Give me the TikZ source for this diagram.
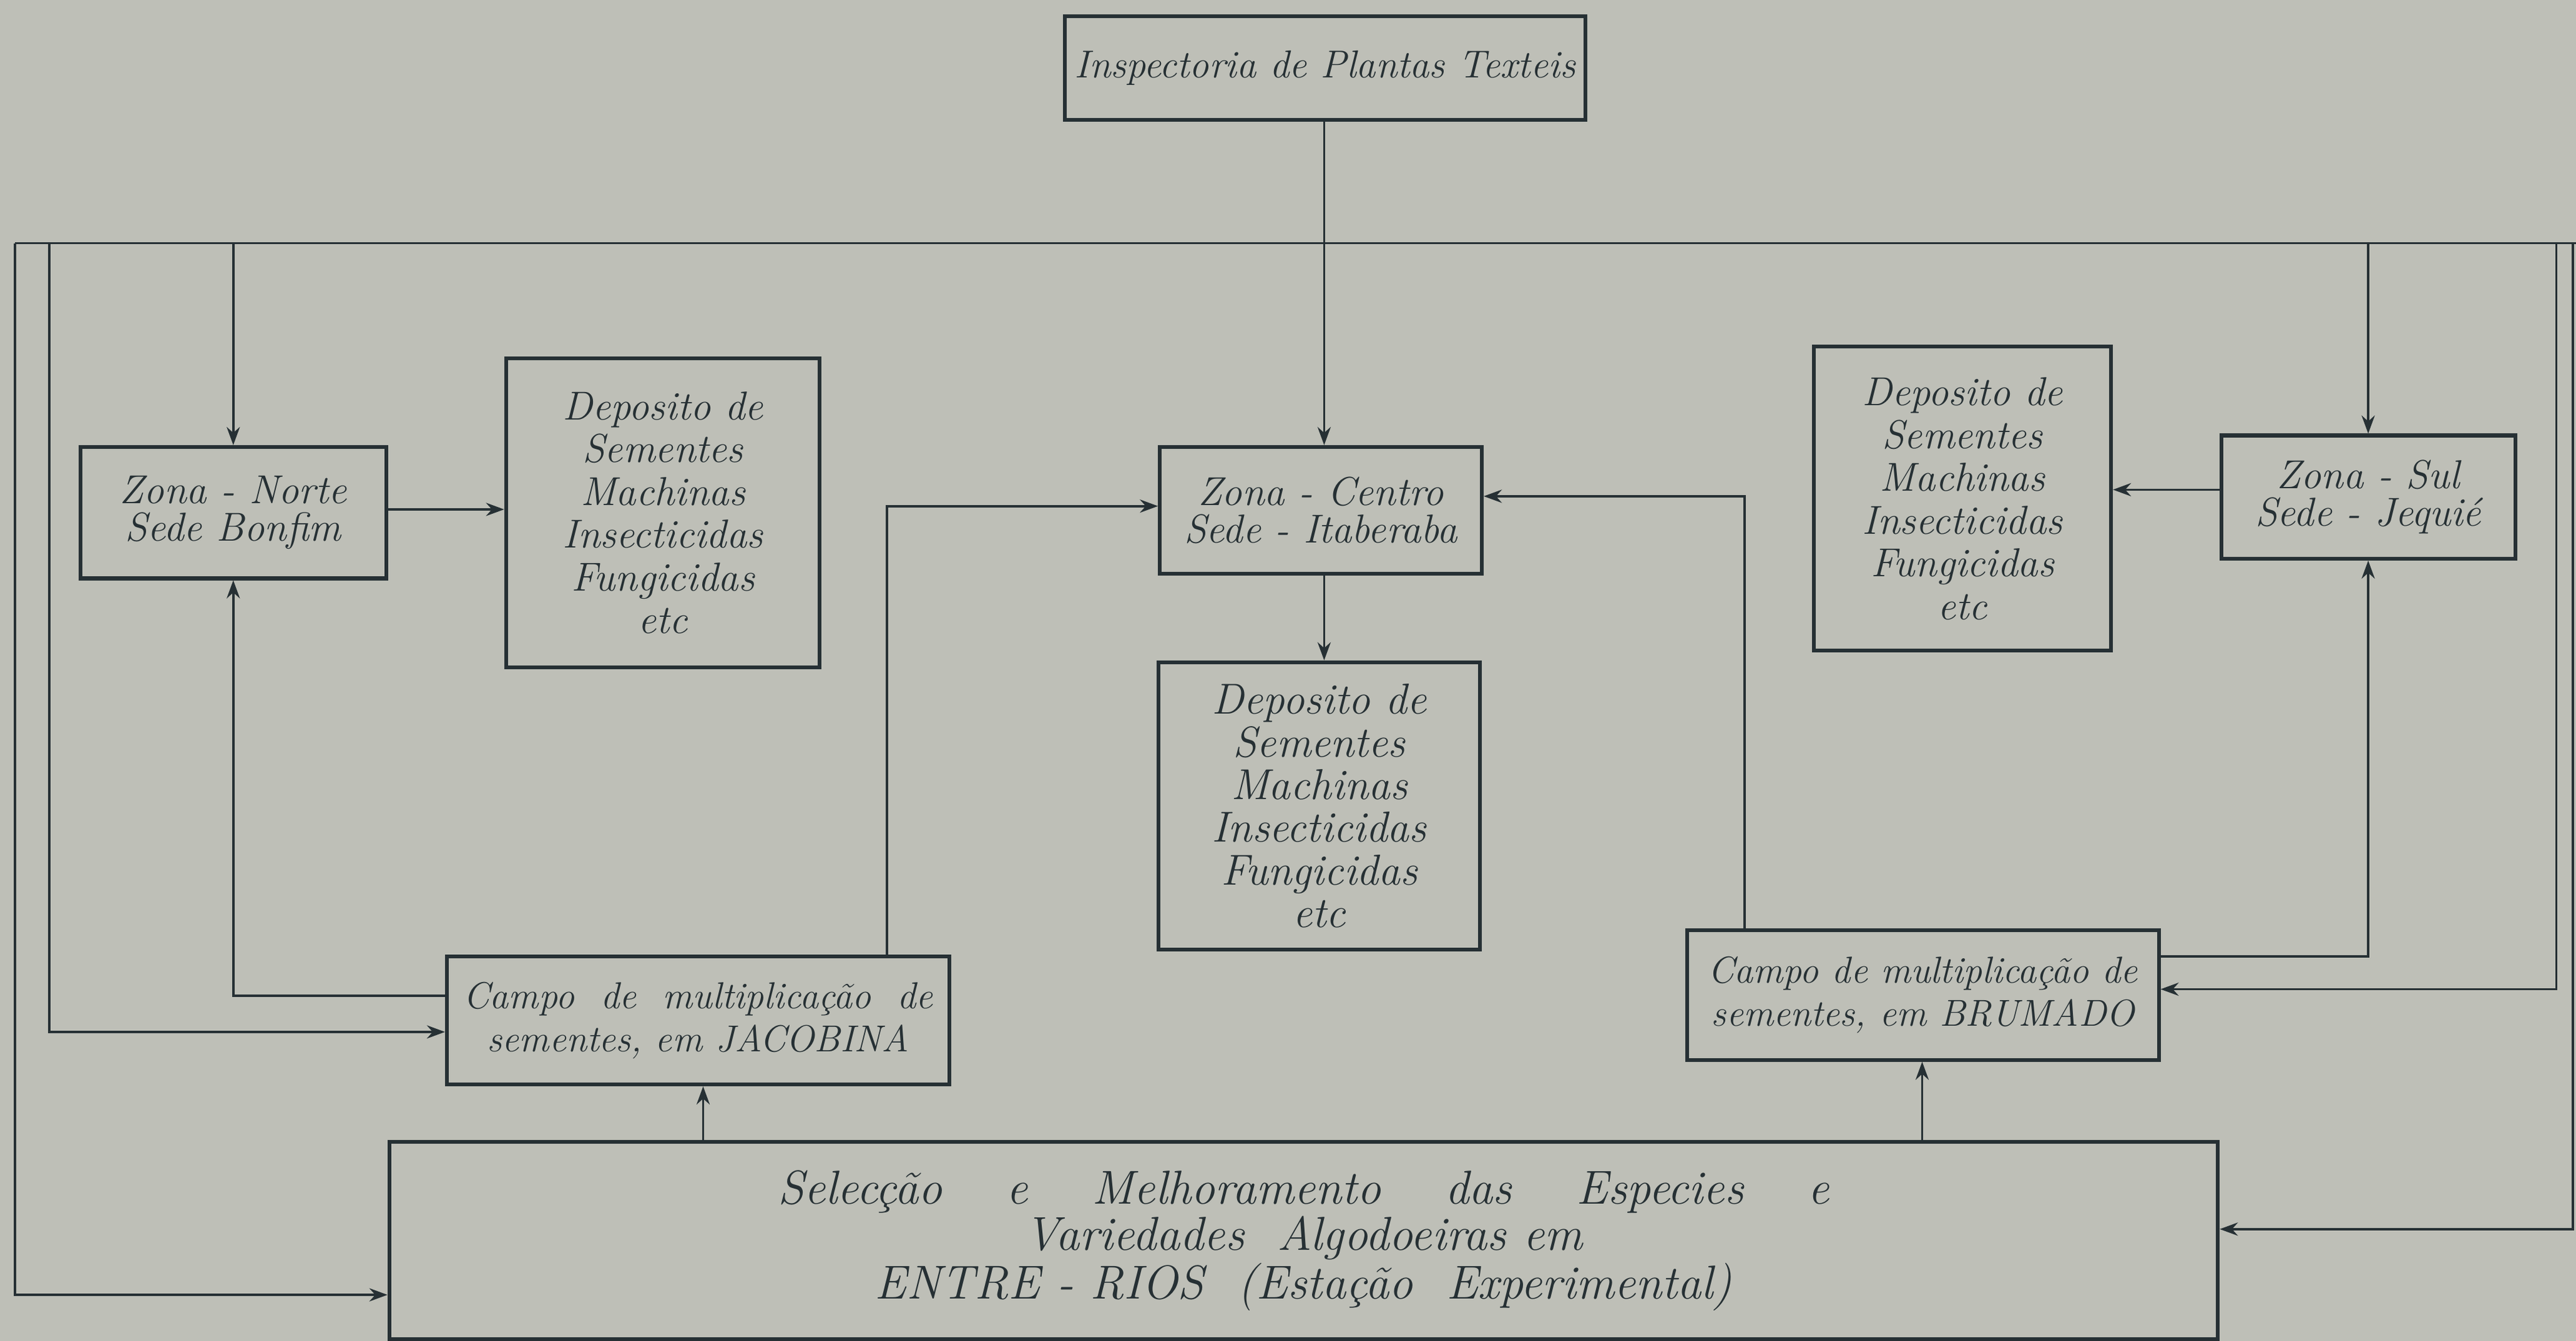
\documentclass[tikz,border=0pt]{standalone}
\usetikzlibrary{arrows.meta}
\definecolor{paper}{RGB}{190,191,183}
\definecolor{ink}{RGB}{38,48,52}
\tikzset{
  caixa/.style={draw=ink, line width=1.3pt, inner sep=0pt, align=center, font=\itshape, text=ink},
  seta/.style={draw=ink, line width=0.8pt, -{Stealth[length=2.2mm,width=1.6mm]}},
  linha/.style={draw=ink, line width=0.8pt}
}
\begin{document}
\begin{tikzpicture}[x=0.2mm, y=-0.2mm]
\fill[paper] (0,0) rectangle (1568,816);
\useasboundingbox (0,0) rectangle (1568,816);

% caixas
\node[caixa, minimum width=63.4mm, minimum height=12.6mm, font=\itshape\fontsize{13.5}{14}\selectfont] (insp) at (806.5,41.5) {Inspectoria de Plantas Texteis};
\node[caixa, minimum width=37.2mm, minimum height=16mm, font=\itshape\fontsize{14}{13}\selectfont] (norte) at (142,312) {Zona - Norte\\Sede Bonfim};
\node[caixa, minimum width=38.2mm, minimum height=37.6mm, font=\itshape\fontsize{14}{14.8}\selectfont] (depN) at (403.5,312) {Deposito de\\Sementes\\Machinas\\Insecticidas\\Fungicidas\\etc};
\node[caixa, minimum width=39.2mm, minimum height=15.4mm, font=\itshape\fontsize{14}{13}\selectfont] (centro) at (804,310.5) {Zona - Centro\\Sede - Itaberaba};
\node[caixa, minimum width=39.2mm, minimum height=35mm, font=\itshape\fontsize{15}{14.8}\selectfont] (depC) at (803,490.5) {Deposito de\\Sementes\\Machinas\\Insecticidas\\Fungicidas\\etc};
\node[caixa, minimum width=36.2mm, minimum height=37mm, font=\itshape\fontsize{14}{14.8}\selectfont] (depS) at (1194.5,303.5) {Deposito de\\Sementes\\Machinas\\Insecticidas\\Fungicidas\\etc};
\node[caixa, minimum width=35.8mm, minimum height=15mm, font=\itshape\fontsize{14}{13}\selectfont] (sul) at (1441.5,302.5) {Zona - Sul\\Sede - Jequié};
\node[caixa, minimum width=61.2mm, minimum height=15.6mm, font=\itshape\fontsize{13}{15}\selectfont] (jac) at (425,621) {Campo \ de \ multiplicação \ de\\sementes, em JACOBINA};
\node[caixa, minimum width=57.4mm, minimum height=15.8mm, font=\itshape\fontsize{13}{15}\selectfont] (bru) at (1170.5,605.5) {Campo de multiplicação de\\sementes, em BRUMADO};
\node[caixa, minimum width=222.6mm, minimum height=24mm, font=\itshape\fontsize{16.5}{13}\selectfont] (sel) at (793.5,755) {Selecção \quad e \quad Melhoramento \quad das \quad Especies \quad e\\Variedades \ Algodoeiras em\\ENTRE - RIOS \ (Estação \ Experimental)};

% linha geral
\coordinate (busL) at (9,148);
\coordinate (busR) at (1568,148);
\draw[linha] (busL) -- (busR);

% ligacoes
\draw[seta] (insp.south -| 806,0) -- (centro.north -| 806,0);
\draw[seta] (norte.north |- busL) -- (norte.north);
\draw[seta] (sul.north |- busL) -- (sul.north);
\draw[seta] (norte.east |- 0,310) -- (depN.west |- 0,310);
\draw[seta] (sul.west |- 0,298) -- (depS.east |- 0,298);
\draw[seta] (centro.south -| 806,0) -- (depC.north -| 806,0);
\draw[seta] (jac.north -| 540,0) |- (centro.west |- 0,308);
\draw[seta] (bru.north -| 1062,0) |- (centro.east |- 0,302);
\draw[seta] (jac.west |- 0,606) -| (norte.south);
\draw[seta] (bru.east |- 0,582) -| (sul.south);
\draw[seta] (30,148) |- (jac.west |- 0,628);
\draw[seta] (busL) |- (sel.west |- 0,788);
\draw[seta] (1556,148) |- (bru.east |- 0,602);
\draw[seta] (1566,148) |- (sel.east |- 0,748);
\draw[seta] (sel.north -| 428,0) -- (jac.south -| 428,0);
\draw[seta] (sel.north -| 1170,0) -- (bru.south -| 1170,0);
\end{tikzpicture}
\end{document}
